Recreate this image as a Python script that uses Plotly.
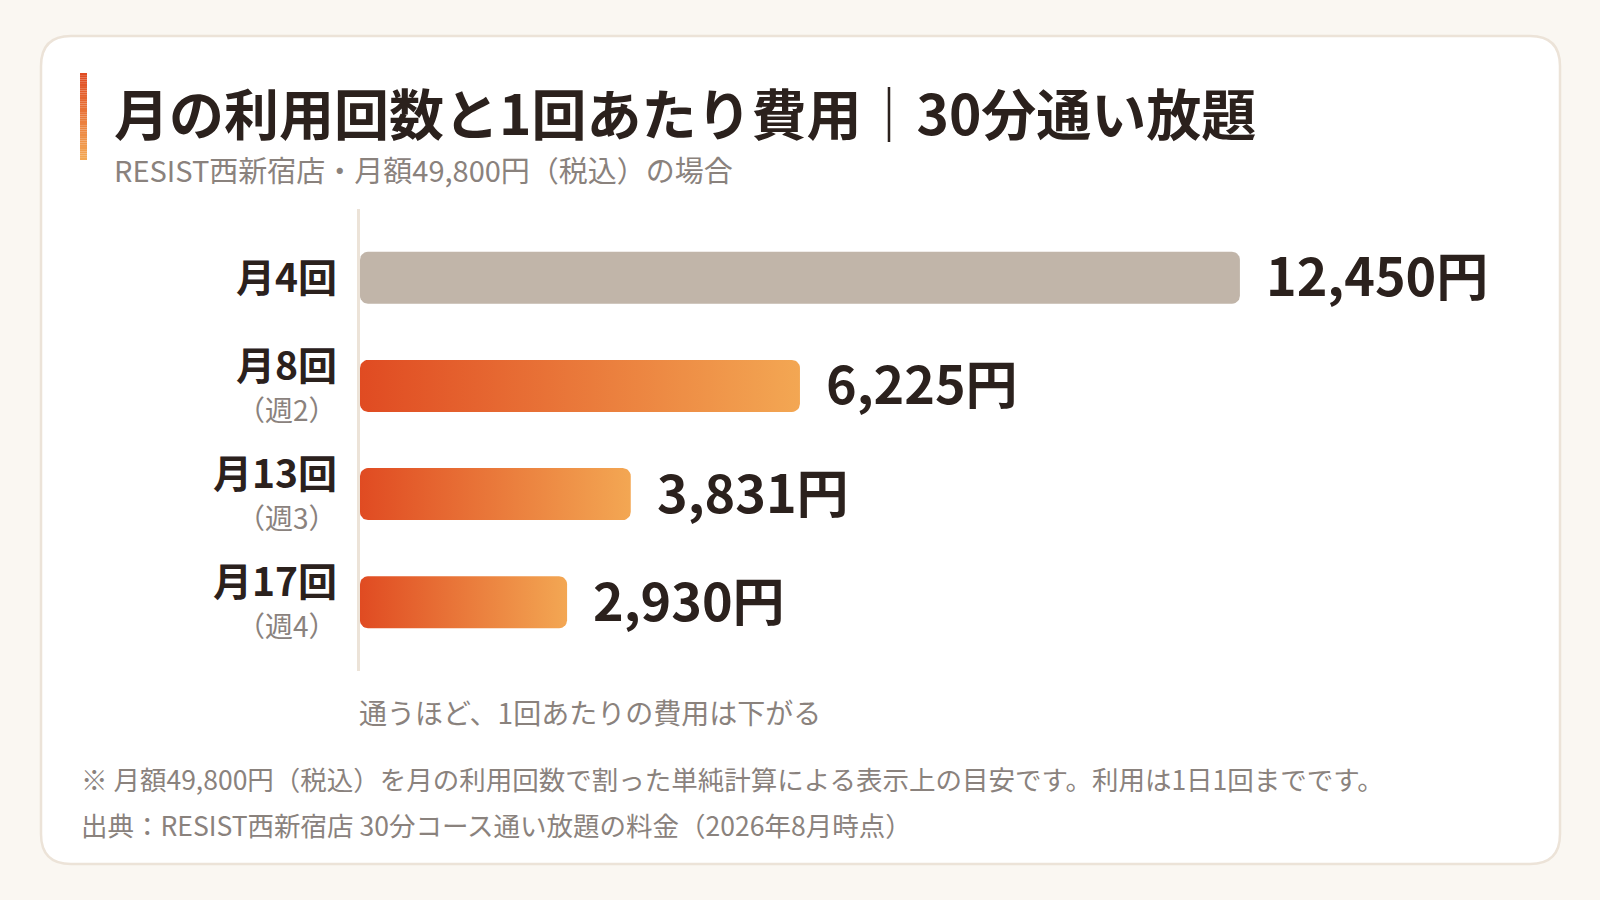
import numpy as np
import plotly.graph_objects as go

# データ
categories = ["月4回", "月8回", "月13回", "月17回"]
weekly = ["", "（週2）", "（週3）", "（週4）"]
costs = [12450, 6225, 3831, 2930]

title = "月の利用回数と1回あたり費用｜30分通い放題"
subtitle = "RESIST西新宿店・月額49,800円（税込）の場合"
note = "通うほど、1回あたりの費用は下がる"
footnote = "※ 月額49,800円（税込）を月の利用回数で割った単純計算による表示上の目安です。利用は1日1回までです。"
source = "出典：RESIST西新宿店 30分コース通い放題の料金（2026年8月時点）"

FONT = "Noto Sans CJK JP"
DARK = "#2B211D"
GRAY = "#8A827D"
BG = "#FAF7F2"
W, H = 1600, 900
L, R, T, B = 360, 100, 209, 229
PW, PH = W - L - R, H - T - B

XMAX = 16130
Y0, Y1 = 3.635, -0.635
px_x = PW / XMAX          # 1円あたりのpx
px_y = PH / (Y0 - Y1)     # 1カテゴリあたりのpx


def paper_x(px):
    return (px - L) / PW


def paper_y(py):
    return (H - B - py) / PH


def rounded_bar(x1, yc, half_h, r_px):
    # 角丸の長方形（データ座標）
    rx, ry = r_px / px_x, r_px / px_y
    t = np.linspace(0, np.pi / 2, 8)
    centers = [
        (x1 - rx, yc - half_h + ry),
        (x1 - rx, yc + half_h - ry),
        (rx, yc + half_h - ry),
        (rx, yc - half_h + ry),
    ]
    xs, ys = [], []
    for q, (cx, cy) in enumerate(centers):
        a = t - np.pi / 2 + q * np.pi / 2
        xs += list(cx + rx * np.cos(a))
        ys += list(cy + ry * np.sin(a))
    xs.append(xs[0])
    ys.append(ys[0])
    return xs, ys


fig = go.Figure()

for i, (cat, c) in enumerate(zip(categories, costs)):
    xs, ys = rounded_bar(c, i, 26 / px_y, 8)
    if i == 0:
        fig.add_trace(go.Scatter(x=xs, y=ys, fill="toself", mode="lines",
                                 line=dict(width=0), fillcolor="#C1B5A9",
                                 hoverinfo="skip", showlegend=False))
    else:
        fig.add_trace(go.Scatter(x=xs, y=ys, fill="toself", mode="lines",
                                 line=dict(width=0),
                                 fillgradient=dict(type="horizontal",
                                                   colorscale=[[0, "#E04B22"], [1, "#F3A753"]]),
                                 hoverinfo="skip", showlegend=False))

annotations = []
for i, (cat, wk, c) in enumerate(zip(categories, weekly, costs)):
    # 金額ラベル
    annotations.append(dict(
        x=c, y=i, xref="x", yref="y", text=f"<b>{c:,}円</b>",
        xanchor="left", yanchor="middle", xshift=24, yshift=4, showarrow=False,
        font=dict(family=FONT, size=52, color=DARK)))
    # カテゴリラベル
    annotations.append(dict(
        x=0, y=i, xref="paper", yref="y", text=f"<b>{cat}</b>", borderpad=0,
        xanchor="right", yanchor="middle", xshift=-22, yshift=23 if wk else 3,
        showarrow=False, font=dict(family=FONT, size=39, color=DARK)))
    if wk:
        annotations.append(dict(
            x=0, y=i, xref="paper", yref="y", text=wk, borderpad=0,
            xanchor="right", yanchor="middle", xshift=-22, yshift=-23,
            showarrow=False, font=dict(family=FONT, size=28, color=GRAY)))

# タイトルなど
texts = [
    (112, 111, title, 55, DARK, True),
    (112, 169, subtitle, 29, GRAY, False),
    (357, 712, note, 28, GRAY, False),
    (79, 778, footnote, 26.5, GRAY, False),
    (79, 824, source, 26.5, GRAY, False),
]
for px, py, txt, size, col, bold in texts:
    annotations.append(dict(
        x=paper_x(px), y=paper_y(py), xref="paper", yref="paper",
        text=f"<b>{txt}</b>" if bold else txt, xanchor="left", yanchor="middle",
        showarrow=False, font=dict(family=FONT, size=size, color=col)))

# カード背景（角丸）
cx0, cx1, cy0, cy1, rr = 41, 1560, 36, 864, 30
pts = [
    (cx0 + rr, cy0), (cx1 - rr, cy0), ("Q", cx1, cy0, cx1, cy0 + rr),
    (cx1, cy1 - rr), ("Q", cx1, cy1, cx1 - rr, cy1),
    (cx0 + rr, cy1), ("Q", cx0, cy1, cx0, cy1 - rr),
    (cx0, cy0 + rr), ("Q", cx0, cy0, cx0 + rr, cy0),
]
path = f"M {paper_x(pts[0][0])},{paper_y(pts[0][1])}"
for p in pts[1:]:
    if p[0] == "Q":
        path += f" Q {paper_x(p[1])},{paper_y(p[2])} {paper_x(p[3])},{paper_y(p[4])}"
    else:
        path += f" L {paper_x(p[0])},{paper_y(p[1])}"
path += " Z"
shapes = [dict(type="path", path=path, xref="paper", yref="paper",
               fillcolor="white", line=dict(color="#ECE3D8", width=2.5), layer="below")]

# タイトル左のアクセントバー（縦グラデーション）
n = 40
c0, c1 = np.array([224, 75, 34]), np.array([243, 167, 83])
edges = np.linspace(73, 160, n + 1)
for k in range(n):
    col = c0 + (c1 - c0) * k / (n - 1)
    shapes.append(dict(type="rect", xref="paper", yref="paper",
                       x0=paper_x(80), x1=paper_x(87),
                       y0=paper_y(edges[k]), y1=paper_y(edges[k + 1]),
                       fillcolor=f"rgb({col[0]:.0f},{col[1]:.0f},{col[2]:.0f})",
                       line=dict(width=0), layer="below"))

fig.update_layout(
    width=W, height=H,
    margin=dict(l=L, r=R, t=T, b=B, pad=0),
    paper_bgcolor=BG, plot_bgcolor="rgba(0,0,0,0)",
    xaxis=dict(range=[0, XMAX], visible=False, fixedrange=True),
    yaxis=dict(range=[Y0, Y1], showgrid=False, zeroline=False, showticklabels=False,
               showline=True, linecolor="#ECE3D8", linewidth=3, fixedrange=True),
    shapes=shapes,
    annotations=annotations,
    showlegend=False,
)

fig.write_html("out.html", config={"displayModeBar": False},
               post_script="document.body.style.margin='0';")
